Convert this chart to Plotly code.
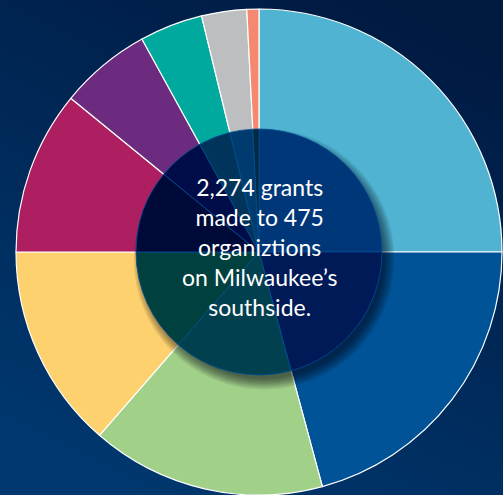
import base64
import plotly.graph_objects as go

# ---- data (share of grants, %, read clockwise from 12 o'clock) ----
categories = ["Area 1", "Area 2", "Area 3", "Area 4", "Area 5",
              "Area 6", "Area 7", "Area 8", "Area 9"]
shares = [25.0, 20.8, 15.6, 13.6, 10.9, 6.1, 4.2, 3.0, 0.8]
colors = ["#4fb3d1", "#005396", "#a1d089", "#fdd16d", "#ad1f61",
          "#6c2b7e", "#00a99d", "#bcbec0", "#f58870"]
center_lines = ["2,274 grants", "made to 475", "organiztions",
                "on Milwaukee\u2019s", "southside."]

# ---- geometry / style ----
W, H = 503, 495
MT = 9
PW, PH = W, H - MT
CX, CY = 259, 252
R_OUT, R_IN = 243, 123
overlay = (0.0, 0.31, 0.58)   # multiply tint of the centre disc


def dom(cx, cy, r):
    return dict(x=[max(0, (cx - r) / PW), min(1, (cx + r) / PW)],
                y=[max(0, 1 - (cy - MT + r) / PH), min(1, 1 - (cy - MT - r) / PH)])


def mult(hexc):
    h = hexc.lstrip("#")
    rgb = [int(h[i:i + 2], 16) for i in (0, 2, 4)]
    return "rgb(%d,%d,%d)" % tuple(round(c * f) for c, f in zip(rgb, overlay))


fig = go.Figure()
fig.add_trace(go.Pie(labels=categories, values=shares, sort=False,
                     direction="clockwise", rotation=0, textinfo="none",
                     hoverinfo="skip", showlegend=False,
                     marker=dict(colors=colors, line=dict(color="white", width=1.2)),
                     domain=dom(CX, CY, R_OUT)))

# soft drop shadow under the centre disc (offset down-right)
for k in range(9):
    fig.add_trace(go.Pie(values=[1], sort=False, textinfo="none", hoverinfo="skip",
                         showlegend=False,
                         marker=dict(colors=["rgba(0,0,20,0.075)"], line=dict(width=0)),
                         domain=dom(CX + 5, CY + 7, R_IN - 3 + k * 1.3)))

fig.add_trace(go.Pie(labels=categories, values=shares, sort=False,
                     direction="clockwise", rotation=0, textinfo="none",
                     hoverinfo="skip", showlegend=False,
                     marker=dict(colors=[mult(c) for c in colors],
                                 line=dict(color=mult("#ffffff"), width=0.8)),
                     domain=dom(CX, CY, R_IN)))

fig.add_annotation(text="<br>".join(center_lines), x=CX / PW, y=1 - (247 - MT) / PH,
                   xref="paper", yref="paper", showarrow=False,
                   xanchor="center", yanchor="middle", align="center",
                   font=dict(family="Lato", size=23, color="white"))

svg = ("<svg xmlns='http://www.w3.org/2000/svg' width='503' height='495' preserveAspectRatio='none'>"
       "<defs><linearGradient id='g' x1='0.75' y1='0' x2='0.25' y2='1'>"
       "<stop offset='0' stop-color='#001a42'/><stop offset='1' stop-color='#00386f'/>"
       "</linearGradient></defs><rect width='503' height='495' fill='url(#g)'/></svg>")
src = "data:image/svg+xml;base64," + base64.b64encode(svg.encode()).decode()
fig.add_layout_image(source=src, xref="paper", yref="paper", x=0, y=1 + MT / PH,
                     sizex=1, sizey=H / PH, xanchor="left", yanchor="top",
                     sizing="stretch", layer="below")

fig.update_layout(width=W, height=H, margin=dict(l=0, r=0, t=MT, b=0),
                  paper_bgcolor="#002552", plot_bgcolor="#002552", showlegend=False)

fig.write_html("out.html")
